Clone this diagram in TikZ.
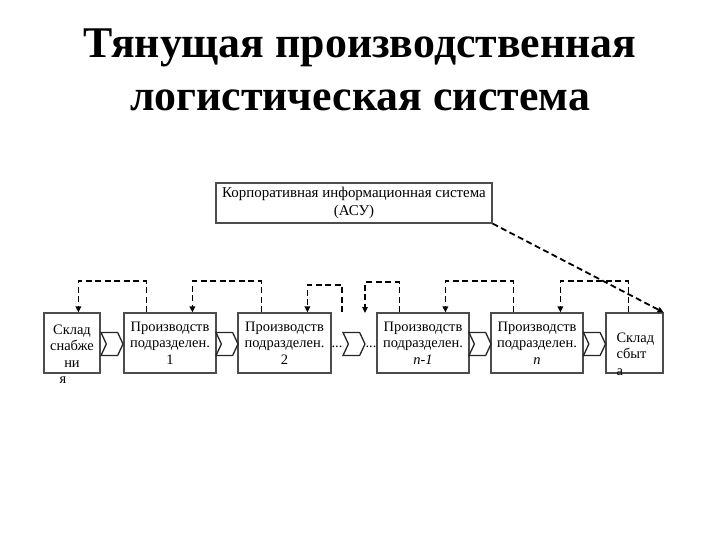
\documentclass[tikz,border=0pt]{standalone}
\usepackage{fontspec}
\setmainfont{Liberation Serif}
\usepackage{tikz}
\usetikzlibrary{arrows.meta}
\usetikzlibrary{shapes.symbols}
\tikzstyle{every node}=[font=\fontsize{14.5}{16.5}\selectfont]
\tikzstyle{box}=[draw=black!70, line width=1.2bp, minimum height=60bp, inner sep=0pt, align=center]
\tikzstyle{chevron}=[draw=black!85, line width=1.3bp, signal, signal from=west, signal to=east, signal pointer angle=130, minimum width=22bp, minimum height=23bp, inner sep=0pt]
\tikzstyle{fb}=[line width=1.8bp, dash pattern=on 6bp off 3.5bp, -{Triangle[length=6bp,width=5.5bp]}]

\begin{document}
\begin{tikzpicture}[x=1bp, y=-1bp]
        \useasboundingbox (0,0) rectangle (720,540);

        % title
        \node[font=\fontsize{44}{53}\selectfont\bfseries, align=center, inner sep=0pt] (title) at (360,70) {Тянущая производственная\\логистическая система};

        % information system
        \node[box, minimum width=276bp, minimum height=40bp, font=\fontsize{15}{17.5}\selectfont] (asu) at (354,203) {Корпоративная информационная система\\(АСУ)};

        % warehouses and production units
        \node[box, minimum width=56bp] (snab) at (72,343) {};
        \node[align=center] (snabtxt) at (72,354) {Склад\\снабже\\ни\\я\hspace*{18bp}};
        \node[box, minimum width=92bp] (p1) at (170,343) {Производств\\подразделен.\\1};
        \node[box, minimum width=93bp] (p2) at (284.5,343) {Производств\\подразделен.\\2};
        \node[box, minimum width=92bp] (pn1) at (423,343) {Производств\\подразделен.\\\textit{n-1}};
        \node[box, minimum width=92bp] (pn) at (537,343) {Производств\\подразделен.\\\textit{n}};
        \node[box, minimum width=57bp] (sbyt) at (634.5,343) {};
        \node[align=left, anchor=west] (sbyttxt) at (613,354) {Склад\\сбыт\\а};

        % material flow
        \node[chevron] (c1) at (112,344) {};
        \node[chevron] (c2) at (227,344) {};
        \node[chevron] (c3) at (354,344) {};
        \node[chevron] (c4) at (480,344) {};
        \node[chevron] (c5) at (594.5,344) {};
        \node[inner sep=0pt] (dA) at (337,347) {...};
        \node[inner sep=0pt] (dB) at (371,347) {...};

        % pull signals
        \coordinate (gA) at (342,312);
        \coordinate (gB) at (365,313);
        \draw[fb] ([xshift=23bp]p1.north west) -- ++(0,-31) -| ([xshift=35bp]snab.north west);
        \draw[fb] ([xshift=24bp]p2.north west) -- ++(0,-31) -| ([xshift=69bp]p1.north west);
        \draw[fb] (gA) -- ++(0,-27) -| ([xshift=70bp]p2.north west);
        \draw[fb] ([xshift=23bp]pn1.north west) -- ++(0,-30) -| (gB);
        \draw[fb] ([xshift=23bp]pn.north west) -- ++(0,-31) -| ([xshift=69bp]pn1.north west);
        \draw[fb] ([xshift=23bp]sbyt.north west) -- ++(0,-31) -| ([xshift=70bp]pn.north west);
        \draw[fb] (asu.south east) -- (sbyt.north east);
    \end{tikzpicture}
\end{document}
